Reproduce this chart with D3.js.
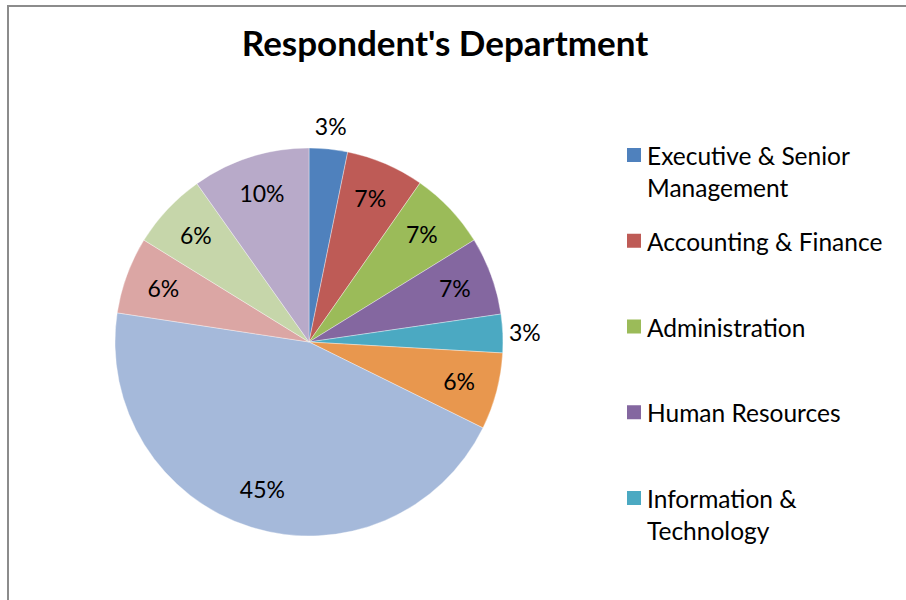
<!DOCTYPE html>
<html>
<head>
<meta charset="utf-8">
<script src="https://cdn.jsdelivr.net/npm/d3@7"></script>
<style>
  body { margin: 0; background: #fff; }
  svg { display: block; font-family: Lato, "Open Sans", sans-serif; }
</style>
</head>
<body>
<div id="chart"></div>
<script>
// departments, clockwise from 12 o'clock
var departments = ['Executive & Senior Management', 'Accounting & Finance', 'Administration',
                   'Human Resources', 'Information & Technology', 'Marketing & Sales',
                   'Operations', 'Customer Service', 'Research & Development', 'Other'];
// share of respondents (%)
var shares = [3.2, 6.5, 6.5, 6.5, 3.2, 6.4, 45.1, 6.4, 6.4, 9.8];
var colors = ['#4F81BD', '#BE5B56', '#9BBB59', '#8467A0', '#4BA9C2', '#E8974E',
              '#A5B9DA', '#DBA6A4', '#C6D6AA', '#B8AAC9'];
var legendShown = 5; // the rest of the legend is cut off in the original

var width = 906, height = 600;
var cx = 309, cy = 342, radius = 194;

var dataset = departments.map(function(d, i) {
  return {label: d, count: shares[i], color: colors[i]};
});

var svg = d3.select('#chart').append('svg')
  .attr('width', width)
  .attr('height', height);

// chart area frame (right/bottom edges fall outside the picture)
svg.append('rect')
  .attr('x', 8).attr('y', 6)
  .attr('width', 1200).attr('height', 1200)
  .attr('fill', 'none')
  .attr('stroke', '#8c8c8c')
  .attr('stroke-width', 2);

svg.append('text')
  .attr('x', 445).attr('y', 56)
  .attr('text-anchor', 'middle')
  .style('font-size', '35px')
  .style('font-weight', 'bold')
  .text("Respondent's Department");

var pie = d3.pie()
  .value(function(d) { return d.count; })
  .sort(null);

var arc = d3.arc().innerRadius(0).outerRadius(radius);
var inLabel = d3.arc().innerRadius(radius * 0.8).outerRadius(radius * 0.8);
var outLabel = d3.arc().innerRadius(radius + 22).outerRadius(radius + 22);

var g = svg.append('g')
  .attr('transform', 'translate(' + cx + ',' + cy + ')');

var arcs = pie(dataset);

g.selectAll('path')
  .data(arcs)
  .enter()
  .append('path')
  .attr('d', arc)
  .attr('fill', function(d) { return d.data.color; })
  .attr('stroke', 'rgba(255,255,255,0.6)')
  .attr('stroke-width', 0.6);

g.selectAll('text.pct')
  .data(arcs)
  .enter()
  .append('text')
  .attr('class', 'pct')
  .attr('transform', function(d) {
    var c = (d.data.count < 5 ? outLabel : inLabel).centroid(d);
    return 'translate(' + c[0] + ',' + c[1] + ')';
  })
  .attr('text-anchor', 'middle')
  .attr('dy', '0.35em')
  .style('font-size', '23px')
  .style('fill', '#000')
  .text(function(d) { return Math.round(d.data.count) + '%'; });

// legend
var legendY = d3.scaleLinear().domain([0, legendShown - 1]).range([148, 491]);
var legend = svg.selectAll('.legend')
  .data(dataset.slice(0, legendShown))
  .enter()
  .append('g')
  .attr('class', 'legend')
  .attr('transform', function(d, i) { return 'translate(627,' + legendY(i) + ')'; });

legend.append('rect')
  .attr('width', 14)
  .attr('height', 14)
  .attr('fill', function(d) { return d.color; });

legend.append('text')
  .attr('x', 20)
  .attr('y', 17)
  .style('font-size', '24.5px')
  .each(function(d) {
    var text = d3.select(this);
    var words = d.label.split(' ');
    var line = [];
    var tspan = text.append('tspan').attr('x', 20).attr('dy', 0);
    words.forEach(function(w) {
      line.push(w);
      tspan.text(line.join(' '));
      if (tspan.node().getComputedTextLength() > 245 && line.length > 1) {
        line.pop();
        tspan.text(line.join(' '));
        line = [w];
        tspan = text.append('tspan').attr('x', 20).attr('dy', 32).text(w);
      }
    });
  });
</script>
</body>
</html>
